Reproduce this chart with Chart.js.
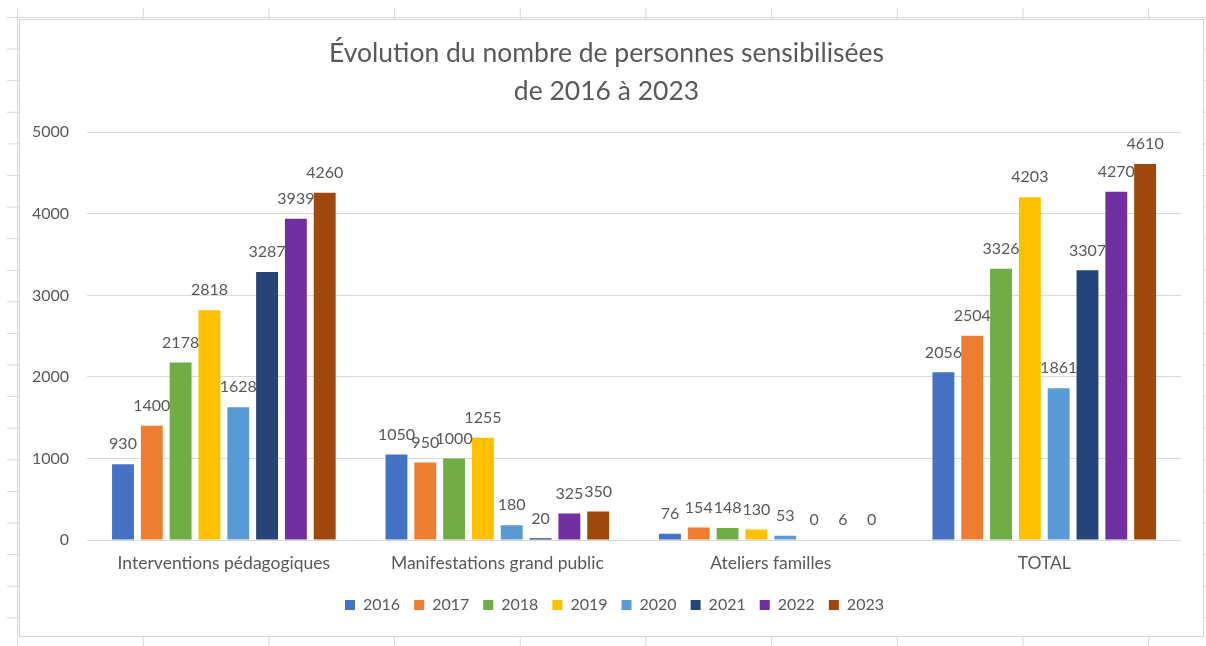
<!DOCTYPE html>
<html lang="fr">
<head>
<meta charset="utf-8">
<title>Évolution du nombre de personnes sensibilisées</title>
<script src="https://cdn.jsdelivr.net/npm/chart.js@4.4.1/dist/chart.umd.min.js"></script>
<style>
  html, body { margin: 0; padding: 0; background: #fff; }
  body { width: 1206px; height: 646px; position: relative; overflow: hidden; }
  /* spreadsheet cells behind the chart */
  .sheet {
    position: absolute; left: 7px; top: 8px; right: 0; bottom: 0;
    background-image:
      linear-gradient(to right, #d9d9d9 1px, transparent 1px),
      linear-gradient(to bottom, #d9d9d9 1px, transparent 1px);
    background-size: 125.7px 100%, 100% 31.6px;
    background-position: 10px 0, 0 9px;
  }
  .box {
    position: absolute; left: 19px; top: 19px;
    width: 1183px; height: 616px;
    border: 1px solid #d4d4d4; background: #fff;
  }
  .box canvas { display: block; }
</style>
</head>
<body>
<div class="sheet"></div>
<div class="box"><canvas id="chart"></canvas></div>
<script>
  const categories = ['Interventions pédagogiques', 'Manifestations grand public', 'Ateliers familles', 'TOTAL'];
  const years = ['2016', '2017', '2018', '2019', '2020', '2021', '2022', '2023'];
  const yearColors = ['#4472C4', '#ED7D31', '#70AD47', '#FFC000', '#5B9BD5', '#264478', '#7030A0', '#9E480E'];

  // one array per year, in category order
  const values2016 = [930, 1050, 76, 2056];
  const values2017 = [1400, 950, 154, 2504];
  const values2018 = [2178, 1000, 148, 3326];
  const values2019 = [2818, 1255, 130, 4203];
  const values2020 = [1628, 180, 53, 1861];
  const values2021 = [3287, 20, 0, 3307];
  const values2022 = [3939, 325, 6, 4270];
  const values2023 = [4260, 350, 0, 4610];
  const seriesValues = [values2016, values2017, values2018, values2019, values2020, values2021, values2022, values2023];

  const yTicks = [0, 1000, 2000, 3000, 4000, 5000];

  const textColor = '#595959';
  const fontFamily = 'Lato, "Open Sans", sans-serif';

  const valueLabels = {
    id: 'valueLabels',
    afterLayout(chart) {
      // title and legend are centred on the whole chart box in the original
      chart.titleBlock.left += 9;
      chart.titleBlock.right += 9;
      chart.legend.left += 17;
      chart.legend.right += 17;
    },
    afterDatasetsDraw(chart) {
      const ctx = chart.ctx;
      ctx.save();
      ctx.font = '16px ' + fontFamily;
      ctx.fillStyle = textColor;
      ctx.textAlign = 'center';
      ctx.textBaseline = 'middle';
      chart.data.datasets.forEach((ds, i) => {
        const meta = chart.getDatasetMeta(i);
        meta.data.forEach((bar, j) => {
          ctx.fillText(String(ds.data[j]), bar.x, bar.y - 20);
        });
      });
      ctx.restore();
    }
  };

  const ctx = document.getElementById('chart').getContext('2d');
  new Chart(ctx, {
    type: 'bar',
    data: {
      labels: categories,
      datasets: years.map((y, i) => ({
        label: y,
        data: seriesValues[i],
        backgroundColor: yearColors[i],
        borderWidth: 0,
        categoryPercentage: 0.843,
        barPercentage: 0.76
      }))
    },
    options: {
      responsive: true,
      maintainAspectRatio: false,
      animation: false,
      layout: {
        padding: { left: -6, right: 22, top: 0, bottom: 13 }
      },
      plugins: {
        title: {
          display: true,
          text: ['Évolution du nombre de personnes sensibilisées', 'de 2016 à 2023'],
          color: textColor,
          font: { family: fontFamily, size: 26.5, weight: 'normal', lineHeight: 1.44 },
          padding: { top: 14, bottom: 22 }
        },
        legend: {
          position: 'bottom',
          labels: {
            color: textColor,
            font: { family: fontFamily, size: 16 },
            boxWidth: 10,
            boxHeight: 10,
            padding: 14
          }
        },
        tooltip: { enabled: false }
      },
      scales: {
        x: {
          grid: { display: false, drawTicks: false },
          border: { display: false },
          ticks: {
            color: textColor,
            font: { family: fontFamily, size: 17.5 },
            padding: 13,
            maxRotation: 0
          },
          afterFit(scale) {
            scale.height = 43;
            scale.paddingLeft = 0;
            scale.paddingRight = 0;
          }
        },
        y: {
          min: 0,
          max: 5000,
          afterBuildTicks(scale) { scale.ticks = yTicks.map(v => ({ value: v })); },
          grid: { color: '#d9d9d9', drawTicks: false },
          border: { display: false },
          ticks: {
            color: textColor,
            font: { family: fontFamily, size: 16 },
            padding: 18,
            callback: v => String(v)
          }
        }
      }
    },
    plugins: [valueLabels]
  });
</script>
</body>
</html>
